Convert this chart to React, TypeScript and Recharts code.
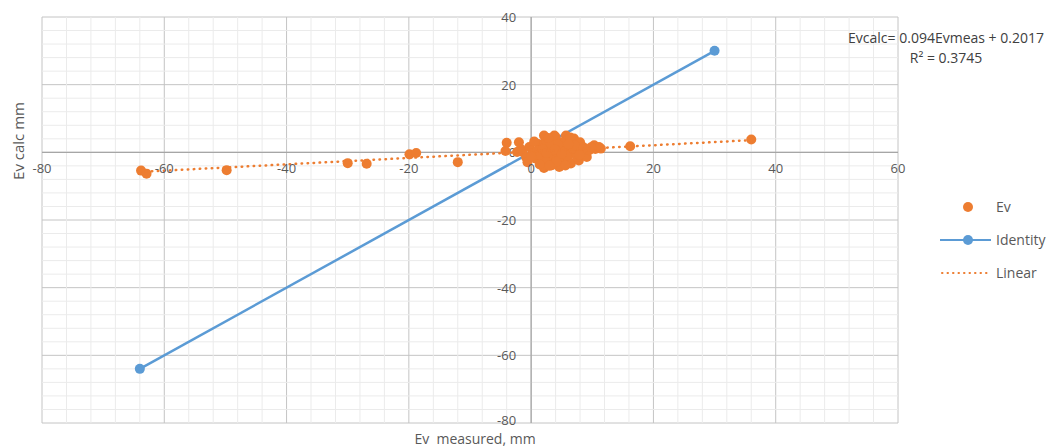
import { ScatterChart, Scatter, XAxis, YAxis, CartesianGrid, ReferenceLine, ReferenceDot } from 'recharts';

const FONT = '"Open Sans", "DejaVu Sans", sans-serif';
const ORANGE = '#ED7D31';
const BLUE = '#5B9BD5';
const TEXT = '#595959';

const evMeasured = [
  -63.8, -62.9, -49.8, -30.0, -26.9, -19.9, -18.8, -12.0, 16.2, 36.0,
  -4.0, -4.2, -2.0, -1.7, -1.4, -0.8, -0.3, 0.2, 0.8, 1.2,
  1.8, 2.1, 2.1, 2.4, 2.1, 2.9, 3.5, 3.8, 4.0, 4.3,
  4.6, 4.8, 5.1, 5.7, 5.9, 6.2, 6.5, 6.7, 7.0, 7.3,
  7.6, 7.8, 8.4, 8.9, 9.1, 9.5, 10.3, 10.5, 11.1, 11.4,
  3.2, 1.0, 5.5, 8.0, 0.5, -2.3, -0.6,
  1.5, 2.6, 3.0, 3.6, 4.2, 4.9, 5.3, 6.0, 6.8, 7.5,
  8.2, 1.9, 2.8, 3.4, 4.4, 5.8, 6.4, 7.2, 8.6, 9.8,
  0.0, 1.4, 2.5, 3.9, 5.0, 6.1, 7.9, 4.1, 3.0, 5.6,
];
const evCalc = [
  -5.4, -6.3, -5.3, -3.2, -3.4, -0.6, -0.2, -2.9, 1.8, 3.8,
  2.8, 0.4, 3.0, 1.0, 0.1, -1.5, 1.6, -0.4, -1.9, 2.5,
  -2.9, 2.1, -4.6, 3.6, 5.0, 0.6, -1.4, 5.0, 4.5, 1.6,
  -4.3, -0.4, -2.4, 5.0, 3.6, 0.6, -3.3, 2.6, 4.1, 1.0,
  -0.9, -2.4, 1.6, -0.4, -1.4, 0.6, 2.1, 1.0, 1.6, 1.1,
  -2.8, 0.5, 1.8, 3.0, 3.2, 0.1, -2.9,
  -1.0, -1.8, 2.8, -0.8, -2.0, 3.0, 0.2, -1.6, 0.0, -1.4,
  0.4, 0.9, 4.2, -3.8, 2.4, -1.0, 4.4, 2.0, 1.4, 1.5,
  -1.2, -3.6, -0.2, 0.8, -0.5, 2.4, -0.8, -2.8, -4.0, -3.9,
];

// identity line end points
const identityX = [-64, 30];
const identityY = [-64, 30];

// linear trendline end points
const linearX = [-64, 36];
const linearY = [-5.8, 3.6];

const xTicks = [-80, -60, -40, -20, 0, 20, 40, 60];
const yTicks = [-80, -60, -40, -20, 0, 20, 40];
// minor gridlines every 4 units, skipping the major ones
const xMinor = Array.from({ length: 36 }, (_, i) => -80 + i * 4).filter((v) => v % 20 !== 0);
const yMinor = Array.from({ length: 31 }, (_, i) => -80 + i * 4).filter((v) => v % 20 !== 0);

const evData = evMeasured.map((x, i) => ({ x, y: evCalc[i] }));
const identityData = identityX.map((x, i) => ({ x, y: identityY[i] }));
const linearData = linearX.map((x, i) => ({ x, y: linearY[i] }));

const dot = (color: string) => (p: any) => <circle cx={p.cx} cy={p.cy} r={5} fill={color} />;

const labelStyle = { fontFamily: FONT, fontSize: 13, fill: TEXT };

// y tick label drawn just left of the vertical axis; the bottom one is nudged up
// so it does not collide with the x axis title
const yTickLabel = (t: number) => (props: any) => {
  const vb = props.viewBox || {};
  return (
    <text x={vb.x - 15} y={vb.y + (t === -80 ? -3 : 0)} textAnchor="end" dominantBaseline="central" style={labelStyle}>
      {t}
    </text>
  );
};

export default function App() {
  return (
    <div style={{ position: 'absolute', left: 0, top: 0, width: 1060, height: 447, background: '#fff', fontFamily: FONT }}>
      <ScatterChart width={1060} height={447} margin={{ top: 17, right: 162, bottom: 24, left: 42 }}>
        <XAxis type="number" dataKey="x" domain={[-80, 60]} ticks={xTicks} interval={0} hide />
        <YAxis type="number" dataKey="y" domain={[-80, 40]} ticks={yTicks} interval={0} hide />
        <CartesianGrid stroke="#c4c4c4" strokeWidth={1} fill="none" />
        {xMinor.map((v) => (
          <ReferenceLine key={'xm' + v} x={v} stroke="#ebebeb" strokeWidth={1} />
        ))}
        {yMinor.map((v) => (
          <ReferenceLine key={'ym' + v} y={v} stroke="#ebebeb" strokeWidth={1} />
        ))}
        <ReferenceLine x={0} stroke="#a6a6a6" strokeWidth={1.2} />
        <ReferenceLine y={0} stroke="#a6a6a6" strokeWidth={1.2} />

        {xTicks.map((t) => (
          <ReferenceDot key={'xl' + t} x={t} y={0} r={0} stroke="none" fill="none"
            label={{ value: String(t), position: 'bottom', offset: 11, style: labelStyle }} />
        ))}
        {yTicks.map((t) => (
          <ReferenceDot key={'yl' + t} x={0} y={t} r={0} stroke="none" fill="none"
            label={{ content: yTickLabel(t) }} />
        ))}

        <Scatter name="Identity" data={identityData} fill={BLUE} shape={dot(BLUE)}
          line={{ stroke: BLUE, strokeWidth: 2.5 }} isAnimationActive={false} />
        <Scatter name="Ev" data={evData} fill={ORANGE} shape={dot(ORANGE)} isAnimationActive={false} />
        <Scatter name="Linear" data={linearData} fill="none" shape={() => <g />}
          line={{ stroke: ORANGE, strokeWidth: 2.5, strokeDasharray: '0.5 5.5', strokeLinecap: 'round' }}
          isAnimationActive={false} />
      </ScatterChart>

      {/* axis titles */}
      <div style={{ position: 'absolute', left: 18, top: 141, width: 0, height: 0 }}>
        <div style={{ position: 'absolute', left: 0, top: 0, transform: 'translate(-50%, -50%) rotate(-90deg)', fontSize: 15, color: TEXT, whiteSpace: 'nowrap', lineHeight: '18px' }}>
          Ev calc mm
        </div>
      </div>
      <div style={{ position: 'absolute', left: 475, top: 439, transform: 'translate(-50%, -50%)', fontSize: 14, color: TEXT, whiteSpace: 'pre', lineHeight: '14px' }}>
        Ev  measured, mm
      </div>

      {/* trendline equation */}
      <div style={{ position: 'absolute', left: 946, top: 28, transform: 'translateX(-50%)', fontSize: 14, color: '#404040', textAlign: 'center', lineHeight: '20px', whiteSpace: 'nowrap' }}>
        <div>Evcalc= 0.094Evmeas + 0.2017</div>
        <div>R² = 0.3745</div>
      </div>

      {/* legend */}
      <div style={{ position: 'absolute', left: 938, top: 190, fontSize: 14, color: TEXT }}>
        {[
          { name: 'Ev', icon: <circle cx={30} cy={12} r={5} fill={ORANGE} /> },
          {
            name: 'Identity',
            icon: (
              <g>
                <line x1={2} y1={12} x2={53} y2={12} stroke={BLUE} strokeWidth={2} />
                <circle cx={30} cy={12} r={5} fill={BLUE} />
              </g>
            ),
          },
          {
            name: 'Linear',
            icon: <line x1={4} y1={12} x2={53} y2={12} stroke={ORANGE} strokeWidth={2} strokeDasharray="0.5 5" strokeLinecap="round" />,
          },
        ].map((it) => (
          <div key={it.name} style={{ display: 'flex', alignItems: 'center', height: 33 }}>
            <svg width={58} height={24}>{it.icon}</svg>
            <span>{it.name}</span>
          </div>
        ))}
      </div>
    </div>
  );
}
